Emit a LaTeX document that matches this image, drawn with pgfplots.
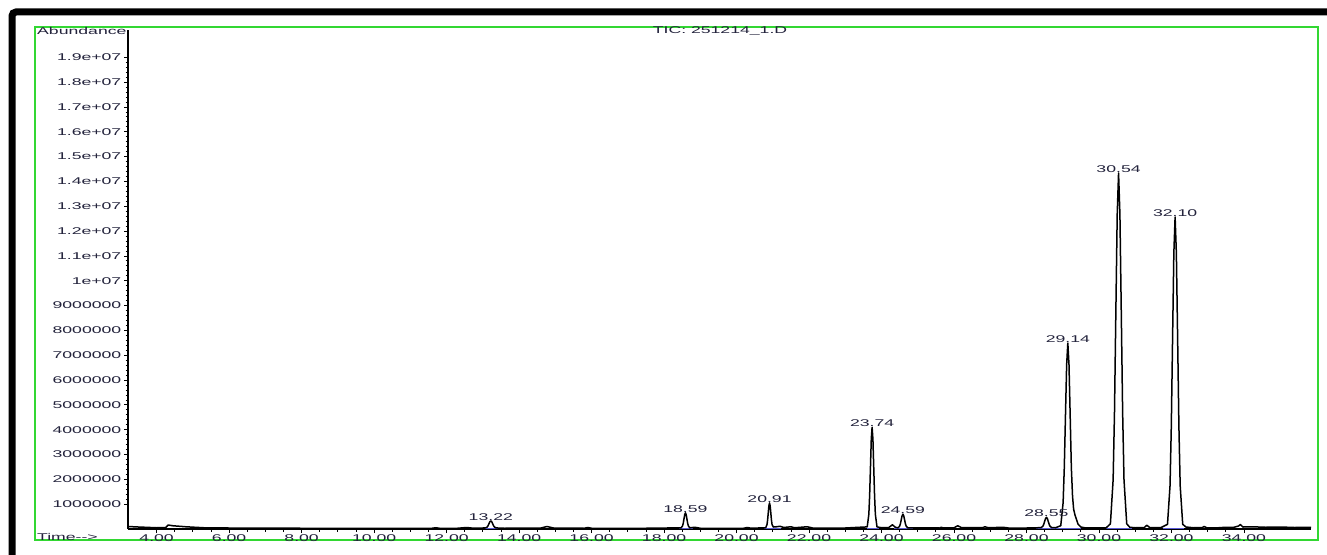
\documentclass[border=0pt]{standalone}
\usepackage{pgfplots}
\pgfplotsset{compat=1.18}
\usepackage{fontspec}
\setmainfont{Liberation Sans}[FakeStretch=1.8]
\definecolor{txt}{RGB}{35,35,60}
\definecolor{frame}{RGB}{50,215,50}
\definecolor{base}{RGB}{90,90,215}
\pgfplotstableread{
t y
3.21 0.10
3.50 0.08
4.00 0.05
4.25 0.06
4.32 0.16
4.45 0.13
4.80 0.09
5.30 0.05
6.00 0.04
8.00 0.03
10.00 0.03
11.60 0.03
11.70 0.05
11.80 0.03
12.30 0.03
12.55 0.06
12.75 0.03
13.07 0.043
13.12 0.079
13.145 0.134
13.17 0.216
13.195 0.296
13.22 0.33
13.245 0.296
13.27 0.216
13.295 0.134
13.32 0.079
13.37 0.043
13.60 0.03
14.60 0.04
14.77 0.10
14.95 0.04
15.80 0.03
15.90 0.06
16.00 0.03
17.50 0.03
18.47 0.047
18.51 0.123
18.53 0.238
18.55 0.41
18.57 0.578
18.59 0.65
18.61 0.578
18.63 0.41
18.65 0.238
18.67 0.123
18.71 0.047
18.85 0.07
19.00 0.03
20.20 0.03
20.30 0.06
20.40 0.03
20.805 0.051
20.84 0.177
20.8575 0.368
20.875 0.653
20.8925 0.931
20.91 1.05
20.9275 0.931
20.945 0.653
20.9625 0.368
20.98 0.177
21.015 0.08
21.10 0.09
21.20 0.11
21.30 0.06
21.50 0.09
21.60 0.05
21.95 0.09
22.10 0.04
23.00 0.04
23.605 0.085
23.65 0.589
23.6725 1.358
23.695 2.502
23.7175 3.623
23.74 4.10
23.7625 3.623
23.785 2.502
23.8075 1.358
23.83 0.589
23.875 0.085
24.00 0.05
24.20 0.06
24.30 0.17
24.38 0.07
24.455 0.046
24.50 0.116
24.5225 0.222
24.545 0.38
24.5675 0.534
24.59 0.60
24.6125 0.534
24.635 0.38
24.6575 0.222
24.68 0.116
24.725 0.046
24.90 0.05
25.60 0.04
25.65 0.07
25.70 0.04
26.00 0.05
26.10 0.13
26.20 0.06
26.80 0.06
26.85 0.09
26.95 0.05
27.35 0.07
27.50 0.04
28.00 0.04
28.30 0.05
28.40 0.055
28.45 0.107
28.475 0.186
28.50 0.305
28.525 0.421
28.55 0.47
28.575 0.421
28.60 0.305
28.625 0.186
28.65 0.107
28.70 0.055
28.80 0.05
28.945 0.133
29.01 1.057
29.0425 2.466
29.075 4.562
29.1075 6.616
29.14 7.49
29.1725 6.616
29.205 4.562
29.2375 2.466
29.27 1.33
29.30 0.80
29.335 0.58
29.37 0.42
29.42 0.20
29.50 0.08
29.60 0.05
30.20 0.05
30.315 0.209
30.39 1.983
30.4275 4.690
30.465 8.717
30.5025 12.661
30.54 14.34
30.5775 12.661
30.615 8.717
30.6525 4.690
30.69 1.983
30.765 0.209
30.85 0.07
31.00 0.05
31.25 0.06
31.32 0.15
31.40 0.06
31.70 0.05
31.89 0.189
31.96 1.744
31.995 4.115
32.03 7.643
32.065 11.099
32.10 12.57
32.135 11.099
32.17 7.643
32.205 4.115
32.24 1.744
32.31 0.189
32.40 0.08
32.60 0.05
32.85 0.06
32.90 0.10
32.97 0.05
33.30 0.05
33.50 0.07
33.70 0.06
33.85 0.12
33.90 0.18
33.97 0.08
34.20 0.09
34.60 0.07
35.00 0.08
35.40 0.06
35.85 0.07
}\tic
\begin{document}
\fontsize{9.8}{10}\selectfont
\begin{tikzpicture}[x=1pt,y=1pt]
\useasboundingbox (0,0) rectangle (1327,554);
\fill[white] (0,0) rectangle (1327,554);
\begin{scope}
\clip (0,0) rectangle (1327,554);
\draw[line width=7pt, rounded corners=4pt] (12,-20) -- (12,542) -- (1360,542);
\end{scope}
\draw[frame, line width=1.2pt] (35,14) rectangle (1318,527);
\node[anchor=west, inner sep=0, text=txt] at (37,523) {Abundance};
\node[inner sep=0, text=txt] at (720,523) {TIC: 251214\_1.D};
\node[anchor=west, inner sep=0, text=txt] at (37,17) {Time-{}->};
\begin{axis}[
  at={(128pt,25pt)}, anchor=south west,
  scale only axis, width=1183pt, height=499pt,
  xmin=3.21, xmax=35.85, ymin=0, ymax=20.1,
  axis x line=bottom, axis y line=left,
  axis line style={-, line width=1.5pt, black},
  tick align=outside,
  major tick length=4pt, minor tick length=2.5pt,
  every tick/.style={black, line width=0.8pt},
  xtick={4,6,...,34},
  xticklabels={4.00,6.00,8.00,10.00,12.00,14.00,16.00,18.00,20.00,22.00,24.00,26.00,28.00,30.00,32.00,34.00},
  minor x tick num=3,
  ytick={1,2,...,19},
  yticklabels={1000000,2000000,3000000,4000000,5000000,6000000,7000000,8000000,9000000,1e+07,1.1e+07,1.2e+07,1.3e+07,1.4e+07,1.5e+07,1.6e+07,1.7e+07,1.8e+07,1.9e+07},
  minor y tick num=4,
  tick label style={font=\fontsize{9.8}{10}\selectfont, text=txt},
  xticklabel style={inner sep=1pt},
  yticklabel style={inner sep=2.5pt},
  clip=false,
]
\addplot[base, line width=1pt, unbounded coords=jump] coordinates {
 (13.07,0.03) (13.49,0.03) (nan,nan)
 (18.40,0.03) (18.80,0.03) (nan,nan)
 (20.75,0.03) (21.22,0.03) (nan,nan)
 (23.60,0.03) (23.92,0.03) (nan,nan)
 (24.34,0.03) (24.86,0.03) (nan,nan)
 (28.27,0.03) (28.87,0.03) (nan,nan)
 (28.87,0.03) (29.50,0.03) (nan,nan)
 (30.20,0.03) (30.90,0.03) (nan,nan)
 (31.76,0.03) (32.35,0.03)
};
\addplot[black, line width=1.5pt, line join=round] table[x=t, y=y] {\tic};
\begin{scope}[every node/.style={anchor=south, inner sep=0.5pt, text=txt, font=\fontsize{9.8}{10}\selectfont}]
\node at (axis cs:13.22,0.33) {13.22};
\node at (axis cs:18.59,0.65) {18.59};
\node at (axis cs:20.91,1.05) {20.91};
\node at (axis cs:23.74,4.10) {23.74};
\node at (axis cs:24.59,0.60) {24.59};
\node at (axis cs:28.55,0.47) {28.55};
\node at (axis cs:29.14,7.49) {29.14};
\node at (axis cs:30.54,14.34) {30.54};
\node at (axis cs:32.10,12.57) {32.10};
\end{scope}
\end{axis}
\end{tikzpicture}
\end{document}
